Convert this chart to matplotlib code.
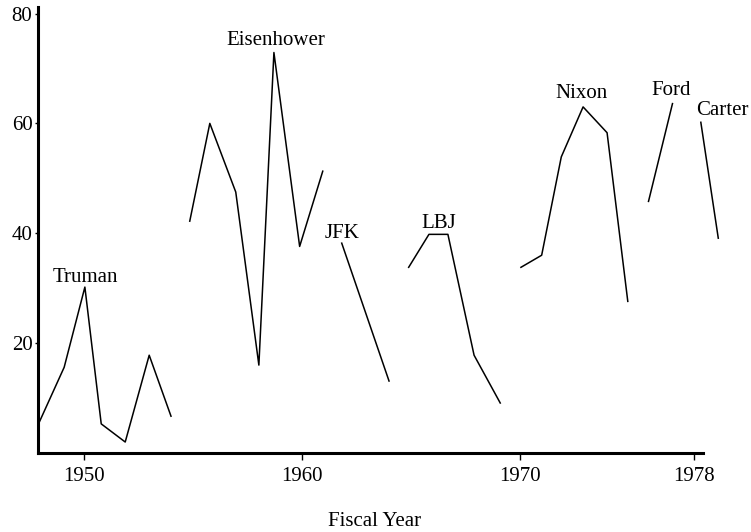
import matplotlib
matplotlib.use("Agg")
import matplotlib.pyplot as plt

plt.rcParams['font.family'] = ['Liberation Serif', 'DejaVu Serif']

# Data (fiscal year, value)
truman_x = [1947.9, 1949.1, 1950.05, 1950.8, 1951.9, 1953.0, 1954.0]
truman_y = [5.1, 15.6, 30.2, 5.3, 2.0, 17.8, 6.7]
eisen_x = [1954.86, 1955.78, 1956.97, 1958.03, 1958.72, 1959.9, 1960.96]
eisen_y = [42.2, 60.0, 47.5, 16.0, 72.9, 37.6, 51.3]
jfk_x = [1961.83, 1964.0]
jfk_y = [38.2, 13.1]
lbj_x = [1964.9, 1965.83, 1966.7, 1967.9, 1969.1]
lbj_y = [33.8, 39.8, 39.8, 17.8, 9.1]
nixon_x = [1970.05, 1971.0, 1971.9, 1972.9, 1974.0, 1974.95]
nixon_y = [33.8, 36.0, 53.9, 63.0, 58.3, 27.6]
ford_x = [1975.9, 1977.0]
ford_y = [45.8, 63.6]
carter_x = [1978.3, 1979.1]
carter_y = [60.2, 39.1]

series = [(truman_x, truman_y), (eisen_x, eisen_y), (jfk_x, jfk_y),
          (lbj_x, lbj_y), (nixon_x, nixon_y), (ford_x, ford_y),
          (carter_x, carter_y)]

labels = ["Truman", "Eisenhower", "JFK", "LBJ", "Nixon", "Ford", "Carter"]
label_x = [1950.07, 1958.81, 1961.83, 1966.28, 1972.84, 1976.93, 1979.31]
label_y = [31.1, 74.2, 39.1, 40.9, 64.7, 65.1, 61.5]

xticks = [1950, 1960, 1970, 1978]
yticks = [20, 40, 60, 80]

fig = plt.figure(figsize=(7.51, 5.32), dpi=100)
ax = fig.add_axes([0.0506, 0.1485, 0.8855, 0.8385])

for xs, ys in series:
    ax.plot(xs, ys, color='black', linewidth=1.1, clip_on=False)

for lab, lx, ly in zip(labels, label_x, label_y):
    ax.text(lx, ly, lab, ha='center', va='baseline', fontsize=15,
            clip_on=False)

ax.set_xlim(1947.9, 1978.4)
ax.set_ylim(0, 81.2)
ax.set_xticks(xticks)
ax.set_xticklabels([str(t) for t in xticks])
ax.set_yticks(yticks)
ax.set_yticklabels([str(t) for t in yticks])

for s in ['top', 'right']:
    ax.spines[s].set_visible(False)
for s in ['left', 'bottom']:
    ax.spines[s].set_linewidth(2.2)

ax.tick_params(axis='x', direction='out', length=5, width=1,
               labelsize=15, pad=5)
ax.tick_params(axis='y', direction='out', length=2.5, width=1,
               labelsize=15, pad=1.5)

fig.text(375 / 751, 0.012, "Fiscal Year", ha='center', va='baseline',
         fontsize=15)

fig.savefig("out.png", dpi=100)
